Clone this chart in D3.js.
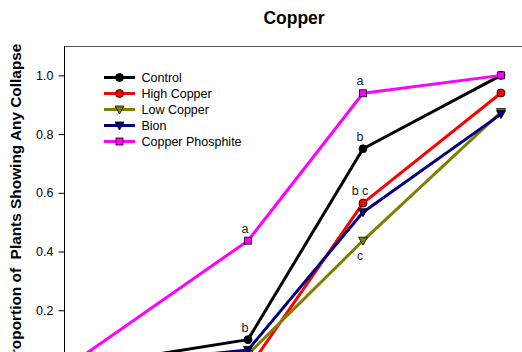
<!DOCTYPE html>
<html>
<head>
<meta charset="utf-8">
<script src="https://cdn.jsdelivr.net/npm/d3@7"></script>
<style>
	body { margin: 0; background: #fff; }
	svg { display: block; font-family: "Liberation Sans", Arial, sans-serif; }
</style>
</head>
<body>
<div id="chart"></div>
<script>
// days after start
var days = [0, 8, 13, 19];

var seriesNames = ["Control", "High Copper", "Low Copper", "Bion", "Copper Phosphite"];
var control = [0, 0.10, 0.75, 1.0];
var highCopper = [0, 0, 0.565, 0.94];
var lowCopper = [0, 0.05, 0.437, 0.875];
var bion = [0, 0.065, 0.534, 0.868];
var copperPhosphite = [0, 0.437, 0.939, 1.0];

var yTicks = [0, 0.2, 0.4, 0.6, 0.8, 1.0];

// letters: series, day index, text, above (-1) or below (1)
var letterSeries = [4, 0, 4, 0, 1, 2];
var letterDay = [1, 1, 2, 2, 2, 2];
var letterText = ["a", "b", "a", "b", "b c", "c"];
var letterSide = [-1, -1, -1, -1, -1, 1];

var W = 522, H = 352;
var plotLeft = 64, plotTop = 46, plotRight = 524, plotBottom = 369;

var colors = ["#000000", "#ff0000", "#808000", "#000080", "#ff00ff"];
var symbols = ["circle", "circle", "tri", "tri", "square"];
var values = [control, highCopper, lowCopper, bion, copperPhosphite];

var svg = d3.select("#chart").append("svg")
	.attr("width", W)
	.attr("height", H);

var x = d3.scaleLinear().domain([0, 20]).range([plotLeft, plotRight]);
var y = d3.scaleLinear().domain([0, 1.1]).range([plotBottom, plotTop]);

// frame top line
svg.append("line")
	.attr("x1", plotLeft).attr("x2", plotRight)
	.attr("y1", plotTop + 0.5).attr("y2", plotTop + 0.5)
	.attr("stroke", "#555").attr("stroke-width", 1.2);

// y axis
var yAxis = svg.append("g")
	.attr("transform", "translate(" + (plotLeft + 0.5) + ",0)")
	.call(d3.axisLeft(y).tickValues(yTicks).tickSize(6).tickPadding(5)
		.tickFormat(d3.format(".1f")));
yAxis.select(".domain").attr("d", "M0," + plotTop + "V" + plotBottom).attr("stroke", "#000");
yAxis.selectAll(".tick line").attr("stroke", "#000");
yAxis.selectAll(".tick text")
	.attr("font-size", "12.5px")
	.attr("fill", "#000")
	.attr("font-family", "Liberation Sans, Arial, sans-serif");

// title
svg.append("text")
	.attr("x", 294).attr("y", 24)
	.attr("text-anchor", "middle")
	.attr("font-size", "17.5px")
	.attr("font-weight", "bold")
	.text("Copper");

svg.append("text")
	.attr("transform", "translate(21," + ((plotTop + plotBottom) / 2 - 3) + ") rotate(-90)")
	.attr("text-anchor", "middle")
	.attr("font-size", "15.4px")
	.attr("font-weight", "bold")
	.style("white-space", "pre")
	.text("Proportion of  Plants Showing Any Collapse");

function drawMarker(g, kind, color, cx, cy) {
	if (kind === "circle") {
		g.append("circle")
			.attr("cx", cx).attr("cy", cy).attr("r", 4)
			.attr("fill", color).attr("stroke", "#000").attr("stroke-width", 0.8);
	} else if (kind === "square") {
		g.append("rect")
			.attr("x", cx - 3.5).attr("y", cy - 3.5)
			.attr("width", 7).attr("height", 7)
			.attr("fill", color).attr("stroke", "#000").attr("stroke-width", 0.8);
	} else {
		g.append("path")
			.attr("d", "M" + (cx - 4.5) + "," + (cy - 3.5) + "L" + (cx + 4.5) + "," + (cy - 3.5) +
				"L" + cx + "," + (cy + 4.5) + "Z")
			.attr("fill", color).attr("stroke", "#000").attr("stroke-width", 0.8);
	}
}

var line = d3.line()
	.x(function (d, i) { return x(days[i]); })
	.y(function (d) { return y(d); });

var plot = svg.append("g");
values.forEach(function (vals, s) {
	var g = plot.append("g");
	g.append("path")
		.attr("d", line(vals))
		.attr("fill", "none")
		.attr("stroke", colors[s])
		.attr("stroke-width", 3)
		.attr("stroke-linejoin", "round");
	vals.forEach(function (v, i) {
		drawMarker(g, symbols[s], colors[s], x(days[i]), y(v));
	});
});

// significance letters
letterText.forEach(function (t, k) {
	var s = letterSeries[k], i = letterDay[k];
	svg.append("text")
		.attr("x", x(days[i]) - 3)
		.attr("y", y(values[s][i]) + (letterSide[k] < 0 ? -8 : 19))
		.attr("text-anchor", "middle")
		.attr("font-size", "12.5px")
		.attr("fill", "#222")
		.style("white-space", "pre")
		.text(t);
});

// legend
var legend = svg.append("g");
seriesNames.forEach(function (name, s) {
	var ly = 77.5 + s * 16;
	legend.append("line")
		.attr("x1", 104).attr("x2", 135)
		.attr("y1", ly).attr("y2", ly)
		.attr("stroke", colors[s]).attr("stroke-width", 3);
	drawMarker(legend, symbols[s], colors[s], 119.5, ly);
	legend.append("text")
		.attr("x", 141.5).attr("y", ly + 4.5)
		.attr("font-size", "12.5px")
		.text(name);
});
</script>
</body>
</html>
